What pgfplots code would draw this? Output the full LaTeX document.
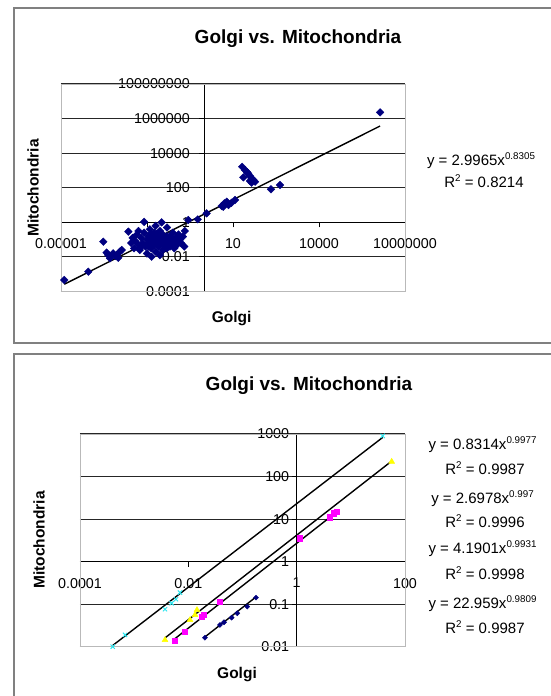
\documentclass[border=0pt]{standalone}
\usepackage{pgfplots}
\pgfplotsset{compat=1.18}
\usepackage{fontspec}
\setmainfont{Liberation Sans}
\definecolor{xlnavy}{RGB}{0,0,128}
\definecolor{xlmag}{RGB}{255,0,255}
\definecolor{xlyel}{RGB}{255,255,0}
\definecolor{xlcyan}{RGB}{40,230,240}
\newcommand{\sups}[1]{\raisebox{6pt}{\fontsize{9.8}{10}\selectfont #1}}
\begin{document}
\begin{tikzpicture}[x=1pt,y=1pt]
\useasboundingbox (0,0) rectangle (550,696);
\fill[white] (0,0) rectangle (550,696);
% chart area borders
\draw[gray, line width=1.5pt] (14,353) rectangle (620,688);
\draw[gray, line width=1.5pt] (14,-20) rectangle (620,342);

% ---------------- top chart ----------------
\begin{axis}[at={(61pt,404.5pt)}, anchor=south west,
  scale only axis, width=344pt, height=207.5pt,
  xmode=log, ymode=log,
  axis lines=middle, axis line style={-, black, line width=1pt},
  hide obscured x ticks=false, hide obscured y ticks=false,
  ymajorgrids=true, grid style={black!85, line width=1pt},
  xminorticks=false, yminorticks=false,
  tick align=outside, major tick length=5pt,
  tick style={black, line width=0.9pt},
  ticklabel style={font=\fontsize{14.3}{16}\selectfont},
  every x tick label/.append style={yshift=-8pt},
  every y tick label/.append style={xshift=-6pt},
  clip=false,
  xmin=1e-5, xmax=1e7, ymin=1e-4, ymax=1e8,
  xtick={1e-5,1e-2,10,1e4,1e7}, xticklabels={0.00001,,10,10000,10000000},
  ytick={1e-4,1e-2,1,100,1e4,1e6,1e8},
  yticklabels={0.0001,0.01,1,100,10000,1000000,100000000},
  ]
\draw[gray!55, line width=0.8pt] (rel axis cs:0,0) rectangle (rel axis cs:1,1);
\addplot[only marks, mark=square*, mark size=2.7pt, mark options={rotate=45, fill=xlnavy, draw=xlnavy}] coordinates {
(1.30e-5,4.62e-4) (8.95e-5,1.40e-3) (2.99e-4,7.59e-2) (3.89e-4,1.78e-2)
(4.47e-4,1.29e-2) (5.13e-4,8.32e-3) (6.61e-4,1.62e-2) (7.94e-4,1.12e-2)
(8.71e-4,1.29e-2) (1.12e-3,2.00e-2) (1.00e-3,8.91e-3) (1.32e-3,2.51e-2)
(2.24e-3,0.288) (2.82e-3,0.0631) (3.16e-3,0.126) (3.55e-3,0.0316)
(3.98e-3,0.0794) (4.47e-3,0.200) (5.01e-3,0.0501) (5.62e-3,0.0251)
(6.31e-3,0.126) (7.08e-3,0.0631) (7.94e-3,1.07) (7.94e-3,0.251)
(8.91e-3,0.0398) (0.01,0.1) (0.01,0.0158) (0.0112,0.158)
(0.0126,0.0631) (0.0126,0.398) (0.0141,0.0316) (0.0145,0.0102)
(0.0158,0.126) (0.0158,0.0794) (0.0178,0.251) (0.0178,0.0501)
(0.0200,0.0200) (0.0200,0.631) (0.0224,0.1) (0.0251,0.158)
(0.0251,0.0398) (0.0282,0.0126) (0.0282,0.316) (0.0316,0.0794)
(0.0324,1.0) (0.0355,0.0251) (0.0355,0.2) (0.0398,0.0501)
(0.0398,0.126) (0.0447,0.1) (0.0501,0.501) (0.0501,0.0316)
(0.0562,0.0631) (0.0631,0.158) (0.0631,0.0398) (0.0708,0.1)
(0.0794,0.251) (0.0794,0.0631) (0.0891,0.0316) (0.1,0.126)
(0.1,0.0794) (0.112,0.0501) (0.126,0.2) (0.141,0.1)
(0.158,0.0617) (0.178,0.148) (0.2,0.0398) (0.209,0.316)
(0.275,1.35) (0.0251,0.0631) (0.0126,0.1) (5.01e-3,0.316)
(0.0501,0.158) (0.02,0.0891) (0.01,0.0501) (0.0282,0.0631)
(0.0447,0.0708) (0.0141,0.2) (6.31e-3,0.0398) (0.0708,0.0501)
(0.0316,0.141) (0.0112,0.0398) (0.0224,0.224)
(0.589,1.48) (1.20,3.31) (4.03,8.71) (4.57,7.94) (5.01,12.6)
(6.03,15.5) (6.92,10.0) (8.91,13.5) (11.7,19.5)
(20.9,1622) (22.9,398) (26.3,1047) (30.2,851) (33.9,676)
(38.9,479) (38.9,245) (44.7,347) (44.7,195) (51.3,282) (58.9,224)
(211,81.3) (437,145) (1.35e6,2.29e6)
};
\addplot[black, line width=1.4pt] coordinates {(1.30e-5,2.63e-4) (1.35e6,3.70e5)};
\end{axis}

% ---------------- bottom chart ----------------
\begin{axis}[at={(80pt,49.3pt)}, anchor=south west,
  scale only axis, width=325pt, height=212.7pt,
  xmode=log, ymode=log,
  axis lines=middle, axis line style={-, black, line width=1pt},
  hide obscured x ticks=false, hide obscured y ticks=false,
  ymajorgrids=true, grid style={black!85, line width=1pt},
  xminorticks=false, yminorticks=false,
  tick align=outside, major tick length=5pt,
  tick style={black, line width=0.9pt},
  ticklabel style={font=\fontsize{14.3}{16}\selectfont},
  every x tick label/.append style={yshift=-8pt},
  every y tick label/.append style={xshift=1pt},
  clip=false,
  xmin=1e-4, xmax=100, ymin=0.01, ymax=1000,
  xtick={1e-4,1e-2,1,100}, xticklabels={0.0001,0.01,1,100},
  ytick={0.01,0.1,1,10,100,1000},
  yticklabels={0.01,0.1,1,10,100,1000},
  ]
\draw[gray!55, line width=0.8pt] (rel axis cs:0,0) rectangle (rel axis cs:1,1);
% series 1 navy
\addplot[only marks, mark=square*, mark size=1.8pt, mark options={rotate=45, fill=xlnavy, draw=xlnavy}] coordinates {
(0.0203,0.0163) (0.0384,0.0325) (0.0455,0.0376) (0.0631,0.0482) (0.0802,0.0612) (0.1225,0.0875) (0.1774,0.1425)
};
\addplot[black, line width=1.4pt] coordinates {(0.0203,0.0170) (0.1774,0.1478)};
% series 2 magenta
\addplot[only marks, mark=square*, mark size=2.6pt, mark options={fill=xlmag, draw=xlmag}] coordinates {
(0.0056,0.0138) (0.00867,0.0226) (0.0178,0.0500) (0.0195,0.0560) (0.0384,0.1148)
(1.15,3.55) (4.12,11.1) (4.75,13.7) (5.48,15.0)
};
\addplot[black, line width=1.4pt] coordinates {(0.0056,0.0153) (5.48,14.7)};
% series 3 yellow
\addplot[only marks, mark=triangle*, mark size=3.4pt, mark options={fill=xlyel, draw=xlyel}] coordinates {
(0.00371,0.0144) (0.01074,0.0425) (0.01327,0.0558) (0.01445,0.0731) (56.8,224)
};
\addplot[black, line width=1.4pt] coordinates {(0.00371,0.0161) (56.8,231)};
% series 4 cyan
\addplot[only marks, mark=x, mark size=3pt, mark options={draw=xlcyan, line width=1pt}] coordinates {
(0.000402,0.0100) (0.000678,0.0189) (0.00371,0.076) (0.00493,0.105)
(0.00592,0.1306) (0.00701,0.1866) (38.7,903)
};
\addplot[black, line width=1.4pt] coordinates {(0.000402,0.0107) (38.7,830)};
\end{axis}

% ---------------- texts ----------------
\node[font=\bfseries\fontsize{19}{22}\selectfont, anchor=base] at (298,696-43.5) {Golgi vs. Mitochondria};
\node[font=\bfseries\fontsize{15.5}{18}\selectfont, anchor=base] at (231.6,696-323) {Golgi};
\node[font=\bfseries\fontsize{15.5}{18}\selectfont, rotate=90] at (33,696-188) {Mitochondria};
\node[font=\fontsize{15}{18}\selectfont, anchor=base] at (481,696-166) {y = 2.9965x\sups{0.8305}};
\node[font=\fontsize{15}{18}\selectfont, anchor=base] at (484,696-187.3) {R\sups{2} = 0.8214};

\node[font=\bfseries\fontsize{19}{22}\selectfont, anchor=base] at (309,696-390.7) {Golgi vs. Mitochondria};
\node[font=\bfseries\fontsize{15.5}{18}\selectfont, anchor=base] at (237,696-679) {Golgi};
\node[font=\bfseries\fontsize{15.5}{18}\selectfont, rotate=90] at (39,696-540) {Mitochondria};
\node[font=\fontsize{15}{18}\selectfont, anchor=base] at (482.5,696-449.3) {y = 0.8314x\sups{0.9977}};
\node[font=\fontsize{15}{18}\selectfont, anchor=base] at (485,696-475) {R\sups{2} = 0.9987};
\node[font=\fontsize{15}{18}\selectfont, anchor=base] at (482.5,696-503.3) {y = 2.6978x\sups{0.997}};
\node[font=\fontsize{15}{18}\selectfont, anchor=base] at (485,696-527.3) {R\sups{2} = 0.9996};
\node[font=\fontsize{15}{18}\selectfont, anchor=base] at (482.5,696-554) {y = 4.1901x\sups{0.9931}};
\node[font=\fontsize{15}{18}\selectfont, anchor=base] at (485,696-579.3) {R\sups{2} = 0.9998};
\node[font=\fontsize{15}{18}\selectfont, anchor=base] at (482.5,696-608.3) {y = 22.959x\sups{0.9809}};
\node[font=\fontsize{15}{18}\selectfont, anchor=base] at (485,696-633.3) {R\sups{2} = 0.9987};
\end{tikzpicture}
\end{document}
